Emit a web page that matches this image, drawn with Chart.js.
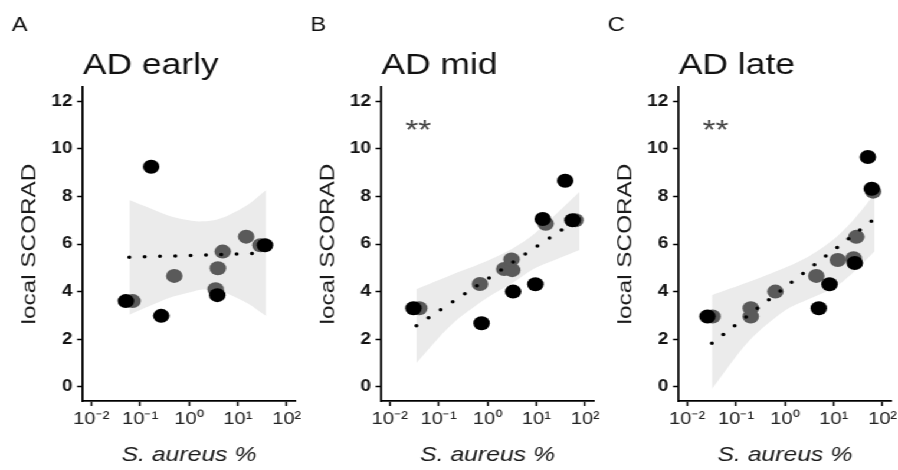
<!DOCTYPE html>
<html>
<head>
<meta charset="utf-8">
<script src="https://cdn.jsdelivr.net/npm/chart.js@4.4.1/dist/chart.umd.min.js"></script>
<style>
  html, body { margin: 0; padding: 0; background: #fff; overflow: hidden; }
  #wrap {
    position: absolute; left: 0; top: 0;
    width: 761px; height: 470px;
    transform: scaleX(1.18); transform-origin: 0 0;
  }
  .panel { position: absolute; top: 0; width: 270px; height: 470px; }
</style>
</head>
<body>
<div id="wrap">
  <div class="panel" style="left:0px"><canvas id="earlyChart"></canvas></div>
  <div class="panel" style="left:252.5px"><canvas id="midChart"></canvas></div>
  <div class="panel" style="left:505px"><canvas id="lateChart"></canvas></div>
</div>
<script>
// 共通ラベル
const panelLetters = ["A", "B", "C"];
const panelTitles = ["AD early", "AD mid", "AD late"];
const xTickValues = [0.01, 0.1, 1, 10, 100];
const xTickLabels = ["10⁻²", "10⁻¹", "10⁰", "10¹", "10²"];
const yTickValues = [0, 2, 4, 6, 8, 10, 12];
const sigLabels = ["", "**", "**"];
const sigX = 0.038;
const sigY = 11.1;

// AD early
const earlyBlackX = [0.051, 0.168, 0.27, 3.8, 36];
const earlyBlackY = [3.6, 9.25, 2.98, 3.85, 5.95];
const earlyGreyX = [0.07, 0.5, 3.5, 3.9, 4.9, 14.8, 29];
const earlyGreyY = [3.6, 4.66, 4.1, 4.98, 5.68, 6.31, 5.95];
const earlyFitX = [0.06, 38];
const earlyFitY = [5.44, 5.62];
const earlyBandX = [0.06, 0.16, 0.4, 1.0, 1.6, 3.2, 6.3, 16, 38];
const earlyBandHi = [7.85, 7.5, 7.18, 7.0, 6.95, 7.0, 7.2, 7.65, 8.27];
const earlyBandLo = [3.03, 3.4, 3.74, 3.96, 4.07, 4.07, 3.9, 3.5, 2.97];

// AD mid
const midBlackX = [0.0305, 0.755, 3.34, 9.55, 13.5, 38.9, 55];
const midBlackY = [3.3, 2.67, 4.0, 4.31, 7.05, 8.66, 7.0];
const midGreyX = [0.04, 0.7, 2.2, 3.2, 3.1, 15.5, 63];
const midGreyY = [3.3, 4.32, 4.95, 4.9, 5.35, 6.85, 7.0];
const midFitX = [0.035, 76.6];
const midFitY = [2.56, 7.09];
const midBandX = [0.035, 0.18, 1.0, 3.2, 8.7, 25, 76.6];
const midBandHi = [4.1, 4.7, 5.3, 5.8, 6.4, 7.25, 8.2];
const midBandLo = [1.0, 2.6, 3.75, 4.35, 4.95, 5.35, 5.75];

// AD late
const lateBlackX = [0.026, 4.95, 8.2, 27, 50, 60];
const lateBlackY = [2.95, 3.3, 4.31, 5.2, 9.66, 8.32];
const lateGreyX = [0.033, 0.2, 0.2, 0.64, 4.4, 12.1, 25.5, 29, 64];
const lateGreyY = [2.95, 3.3, 2.95, 4.0, 4.66, 5.33, 5.4, 6.3, 8.2];
const lateFitX = [0.032, 68.6];
const lateFitY = [1.83, 7.06];
const lateBandX = [0.032, 0.18, 1.0, 3.2, 10, 25, 68.6];
const lateBandHi = [3.85, 4.4, 5.0, 5.5, 6.2, 7.0, 8.1];
const lateBandLo = [-0.1, 1.9, 3.2, 3.7, 4.15, 4.8, 5.7];

Chart.defaults.font.family = "'Liberation Sans', Arial, sans-serif";
Chart.defaults.color = "#111";

function toPoints(xs, ys) {
  return xs.map((x, i) => ({ x: x, y: ys[i] }));
}

// 縦軸タイトルと有意差の記号
const panelTextPlugin = {
  id: "panelText",
  afterDraw: function (chart) {
    const opts = chart.config.options.plugins.panelText;
    if (!opts) return;
    const ctx = chart.ctx;
    const area = chart.chartArea;

    ctx.save();
    ctx.translate(29.7, (area.top + area.bottom) / 2);
    ctx.rotate(-Math.PI / 2);
    ctx.scale(1.43, 1);
    ctx.font = "17px 'Liberation Sans', Arial, sans-serif";
    ctx.fillStyle = "#1a1a1a";
    ctx.textAlign = "center";
    ctx.textBaseline = "alphabetic";
    ctx.fillText("local SCORAD", 0, 0);
    ctx.restore();

    if (opts.sig) {
      const x = chart.scales.x.getPixelForValue(sigX);
      const y = chart.scales.y.getPixelForValue(sigY);
      ctx.save();
      ctx.font = "28px 'Liberation Sans', Arial, sans-serif";
      ctx.fillStyle = "#444";
      ctx.textAlign = "center";
      ctx.textBaseline = "alphabetic";
      ctx.fillText(opts.sig, x, y + 16);
      ctx.restore();
    }
  },
};

function makePanel(id, idx, d) {
  const el = document.getElementById(id);
  if (!el) return;
  new Chart(el, {
    type: "scatter",
    data: {
      datasets: [
        {
          type: "line",
          data: toPoints(d.fitX, d.fitY),
          borderColor: "#000",
          borderWidth: 3.5,
          borderDash: [0, 13],
          borderCapStyle: "round",
          pointRadius: 0,
          fill: false,
          order: 0,
        },
        {
          data: toPoints(d.blackX, d.blackY),
          backgroundColor: "#000",
          borderWidth: 0,
          pointRadius: 7,
          order: 1,
        },
        {
          data: toPoints(d.greyX, d.greyY),
          backgroundColor: "#5a5a5a",
          borderWidth: 0,
          pointRadius: 7,
          order: 2,
        },
        {
          type: "line",
          data: toPoints(d.bandX, d.bandHi),
          borderColor: "rgba(0,0,0,0)",
          borderWidth: 0,
          backgroundColor: "#ebebeb",
          pointRadius: 0,
          tension: 0.3,
          fill: "+1",
          order: 3,
        },
        {
          type: "line",
          data: toPoints(d.bandX, d.bandLo),
          borderColor: "rgba(0,0,0,0)",
          borderWidth: 0,
          pointRadius: 0,
          tension: 0.3,
          fill: false,
          order: 4,
        },
      ],
    },
    options: {
      responsive: true,
      maintainAspectRatio: false,
      animation: false,
      events: [],
      layout: { padding: { left: 10, right: 20, top: 0, bottom: 0 } },
      plugins: {
        legend: { display: false },
        tooltip: { enabled: false },
        title: {
          display: true,
          text: panelLetters[idx],
          align: "start",
          font: { size: 20, weight: "normal" },
          color: "#111",
          padding: { top: 13.5, bottom: 0 },
        },
        subtitle: {
          display: true,
          text: panelTitles[idx],
          align: "start",
          fullSize: false,
          font: { size: 30, weight: "normal" },
          color: "#111",
          padding: { top: 10.5, bottom: 3 },
        },
        panelText: { sig: sigLabels[idx] },
      },
      scales: {
        x: {
          type: "logarithmic",
          min: Math.pow(10, -2.17),
          max: Math.pow(10, 2.17),
          afterBuildTicks: (s) => {
            s.ticks = xTickValues.map((v) => ({ value: v }));
          },
          afterFit: (s) => {
            s.height = 69;
          },
          ticks: {
            callback: (v, i) => xTickLabels[i],
            font: { size: 17 },
            color: "#222",
            padding: 3,
            maxRotation: 0,
            autoSkip: false,
          },
          grid: { drawOnChartArea: false, tickLength: 5, tickWidth: 1.5, tickColor: "#000" },
          border: { color: "#000", width: 1.8 },
          title: {
            display: true,
            text: "S. aureus %",
            font: { size: 21, style: "italic" },
            color: "#1a1a1a",
            padding: { top: 0, bottom: 2.4 },
          },
        },
        y: {
          min: -0.6,
          max: 12.6,
          afterBuildTicks: (s) => {
            s.ticks = yTickValues.map((v) => ({ value: v }));
          },
          afterFit: (s) => {
            s.width = 60.34;
          },
          ticks: { font: { size: 16, weight: "bold" }, color: "#111", padding: 4 },
          grid: { drawOnChartArea: false, tickLength: 5, tickWidth: 1.5, tickColor: "#000" },
          border: { color: "#000", width: 1.8 },
        },
      },
    },
    plugins: [panelTextPlugin],
  });
}

makePanel("earlyChart", 0, {
  blackX: earlyBlackX, blackY: earlyBlackY,
  greyX: earlyGreyX, greyY: earlyGreyY,
  fitX: earlyFitX, fitY: earlyFitY,
  bandX: earlyBandX, bandHi: earlyBandHi, bandLo: earlyBandLo,
});
makePanel("midChart", 1, {
  blackX: midBlackX, blackY: midBlackY,
  greyX: midGreyX, greyY: midGreyY,
  fitX: midFitX, fitY: midFitY,
  bandX: midBandX, bandHi: midBandHi, bandLo: midBandLo,
});
makePanel("lateChart", 2, {
  blackX: lateBlackX, blackY: lateBlackY,
  greyX: lateGreyX, greyY: lateGreyY,
  fitX: lateFitX, fitY: lateFitY,
  bandX: lateBandX, bandHi: lateBandHi, bandLo: lateBandLo,
});
</script>
</body>
</html>
